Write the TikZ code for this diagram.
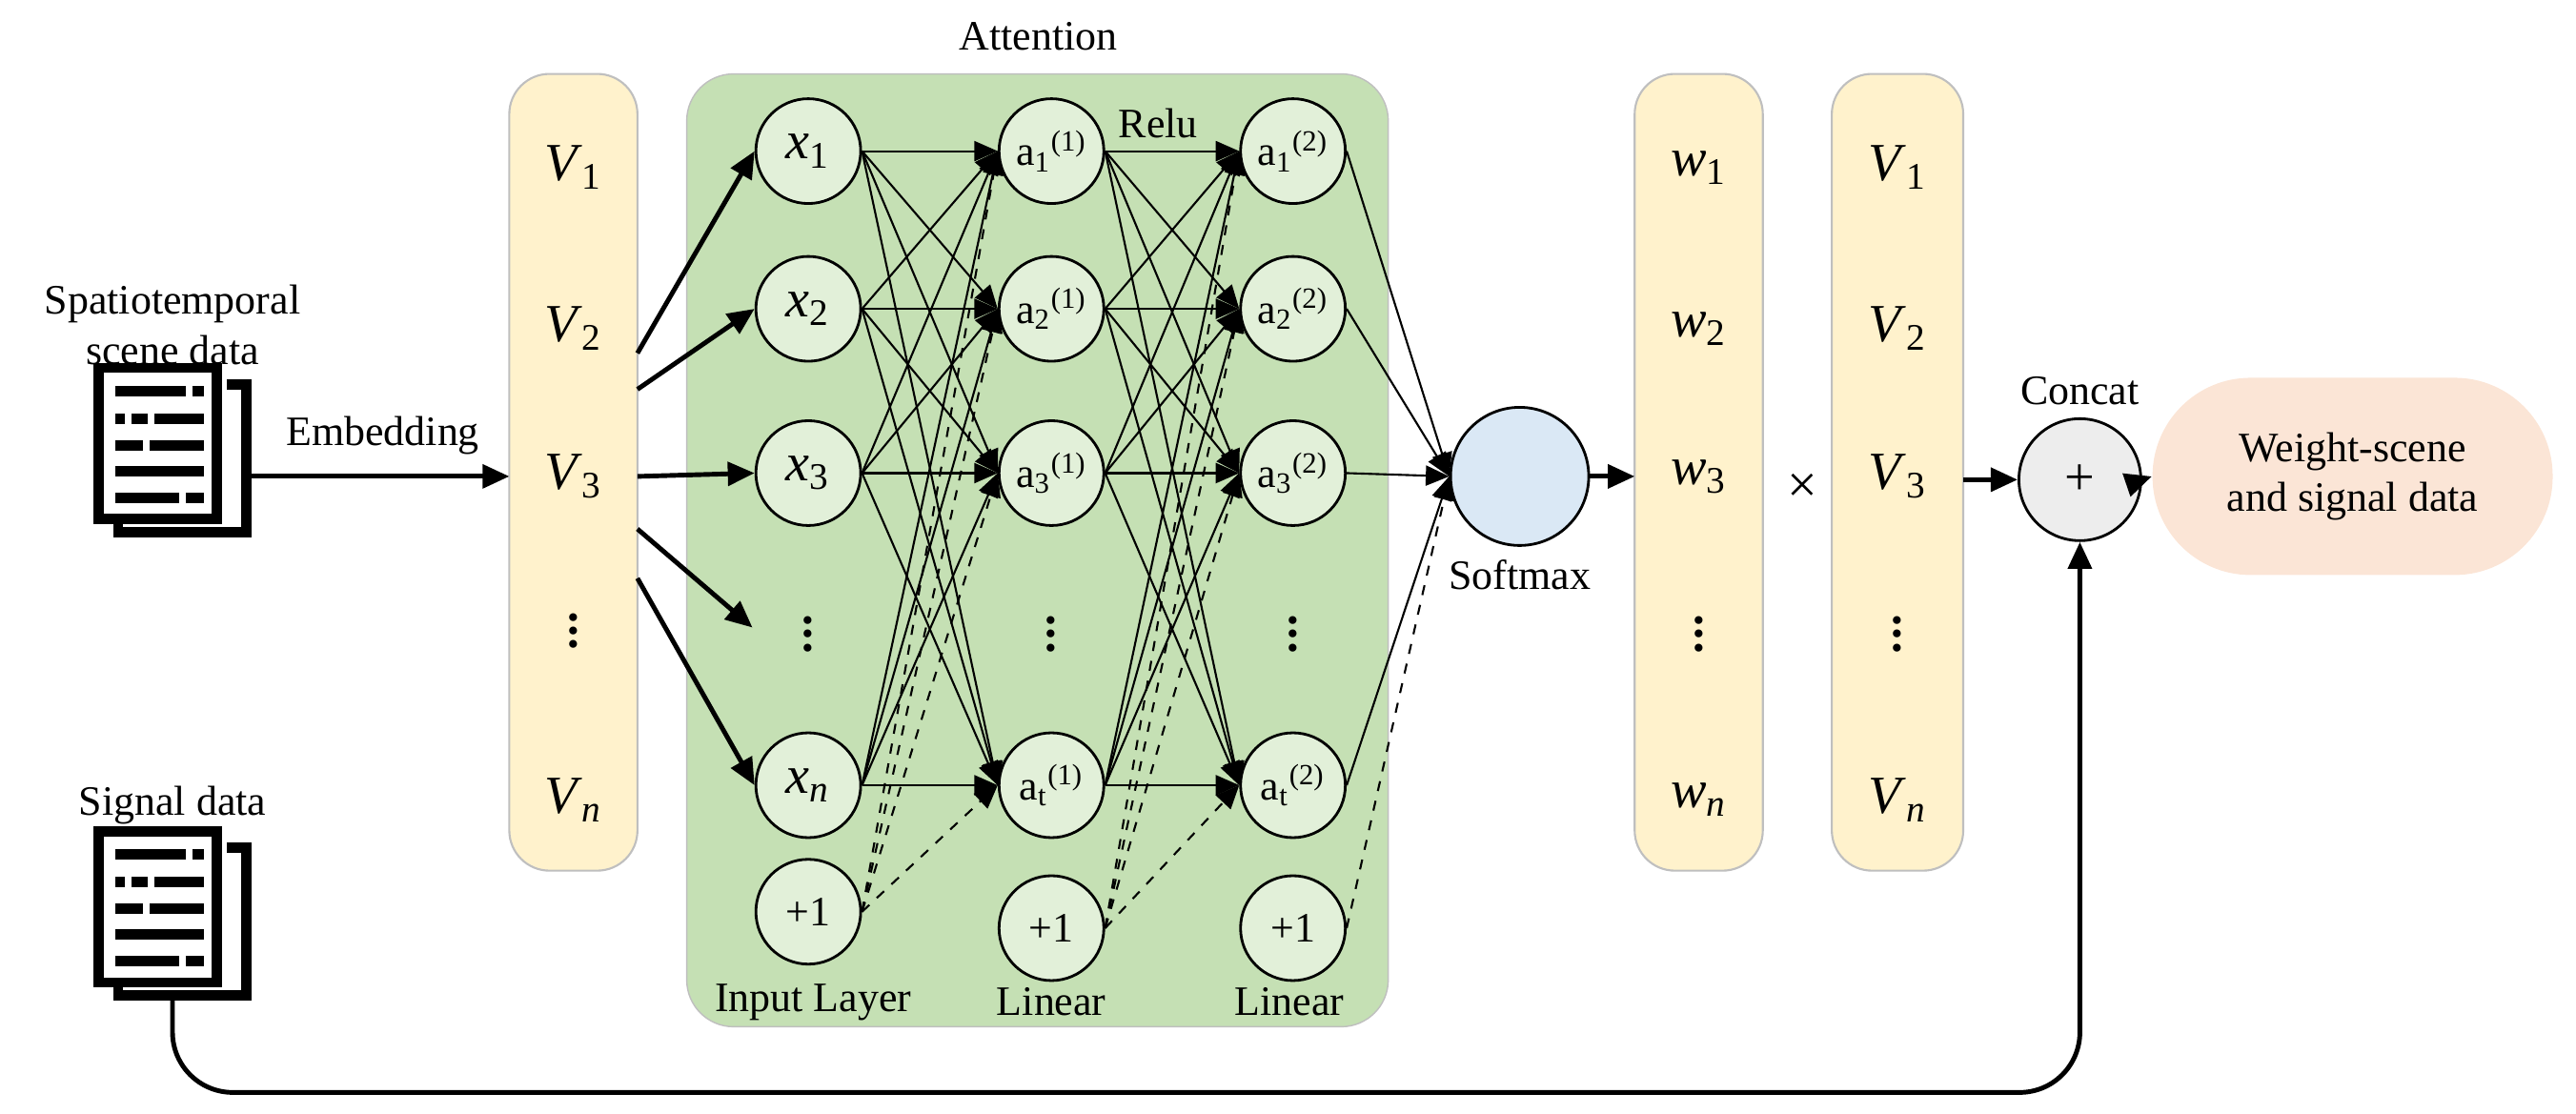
\documentclass[tikz,border=0pt]{standalone}
\usepackage{fontspec}
\setmainfont{Liberation Serif}
\usetikzlibrary{arrows.meta,calc,shapes.geometric}
\definecolor{ycol}{HTML}{FFF2CC}
\definecolor{gbox}{HTML}{C5E0B4}
\definecolor{gcirc}{HTML}{E2F0D9}
\definecolor{bcirc}{HTML}{DAE8F5}
\definecolor{ccirc}{HTML}{EDEDED}
\definecolor{pcol}{HTML}{FBE5D6}
\newcommand\iv[2]{\textit{#1}\textsubscript{#2}}
\newcommand\an[2]{a\textsubscript{#1}\textsuperscript{(#2)}}
\newcommand\vd{\textbf{\Large$\vdots$}}
\begin{document}
\begin{tikzpicture}[x=0.01724cm,y=-0.01724cm,
  every node/.style={font=\fontsize{12.5}{15}\selectfont},
  col/.style={draw=black!25,fill=ycol,rounded corners=12pt,line width=0.6pt},
  neu/.style={circle,draw,fill=gcirc,line width=0.8pt,minimum size=1.1cm,inner sep=0pt},
  arr/.style={-{Triangle[length=7pt,width=6pt]},line width=0.6pt},
  barr/.style={-{Triangle[length=8pt,width=7pt]},line width=1.4pt},
  darr/.style={arr,dashed},
  big/.style={font=\fontsize{16}{18}\selectfont},
  lines/.style={line width=3.2pt}]
\useasboundingbox (0,0) rectangle (1568,678);
% document icons
\foreach \yy in {224,506}{
  \draw[line width=3pt] (60,\yy) rectangle (132,\yy+92);
  \draw[line width=3pt] (138,\yy+10) -- (150,\yy+10) -- (150,\yy+100) -- (72,\yy+100) -- (72,\yy+95);
  \draw[lines] (70,\yy+14) -- (113,\yy+14) (117,\yy+14) -- (124,\yy+14);
  \draw[lines] (70,\yy+31) -- (76,\yy+31) (80,\yy+31) -- (90,\yy+31) (94,\yy+31) -- (124,\yy+31);
  \draw[lines] (70,\yy+47) -- (87,\yy+47) (91,\yy+47) -- (124,\yy+47);
  \draw[lines] (70,\yy+63) -- (124,\yy+63);
  \draw[lines] (70,\yy+79) -- (109,\yy+79) (113,\yy+79) -- (124,\yy+79);
}
\coordinate (d1r) at (150,290);
\coordinate (d2b) at (105,606);
\node[align=center] (lst) at (105,198) {Spatiotemporal\\scene data};
\node (lsig) at (105,490) {Signal data};
\node (lemb) at (233,265) {Embedding};
% columns
\draw[col] (310,45) rectangle (388,530);
\node[big] (v1) at (349,102) {\iv{V}{1}};
\node[big] (v2) at (349,200) {\iv{V}{2}};
\node[big] (v3) at (349,290) {\iv{V}{3}};
\node[big] (vd) at (349,378) {\vd};
\node[big] (vn) at (349,487) {\iv{V}{\textit{n}}};
\draw[draw=black!25,fill=gbox,rounded corners=14pt] (418,45) rectangle (845,625);
\node (latt) at (632,22) {Attention};
% layer nodes
\node[neu,big] (x1) at (492,92) {\iv{x}{1}};
\node[neu,big] (x2) at (492,188) {\iv{x}{2}};
\node[neu,big] (x3) at (492,288) {\iv{x}{3}};
\node[big] (xd) at (492,380) {\vd};
\node[neu,big] (xn) at (492,478) {\iv{x}{\textit{n}}};
\node[neu] (p1) at (492,555) {+1};
\foreach \l/\xx/\s in {a/640/1,b/787/2}{
  \node[neu] (\l1) at (\xx,92) {\an{1}{\s}};
  \node[neu] (\l2) at (\xx,188) {\an{2}{\s}};
  \node[neu] (\l3) at (\xx,288) {\an{3}{\s}};
  \node[big] (\l d) at (\xx,380) {\vd};
  \node[neu] (\l n) at (\xx,478) {\an{t}{\s}};
  \node[neu] (\l p) at (\xx,565) {+1};
}
\node (lin) at (495,610) {Input Layer};
\node (llin1) at (640,610) {Linear};
\node (llin2) at (785,610) {Linear};
\node (lrelu) at (705,75) {Relu};
% connections
\foreach \s in {x1,x2,x3,xn}{\foreach \t in {a1,a2,a3,an}{\draw[arr] (\s.east) -- (\t.west);}}
\foreach \t in {a1,a2,a3,an}{\draw[darr] (p1.east) -- (\t.west);}
\foreach \s in {a1,a2,a3,an}{\foreach \t in {b1,b2,b3,bn}{\draw[arr] (\s.east) -- (\t.west);}}
\foreach \t in {b1,b2,b3,bn}{\draw[darr] (ap.east) -- (\t.west);}
% softmax
\node[circle,draw,fill=bcirc,line width=0.8pt,minimum size=1.45cm] (sm) at (925,290) {};
\node (lsm) at (925,350) {Softmax};
\foreach \s in {b1,b2,b3,bn}{\draw[arr] (\s.east) -- (sm.west);}
\draw[darr] (bp.east) -- (sm.west);
% input arrows
\draw[barr] (388,215) -- (x1.west);
\draw[barr] (388,237) -- (x2.west);
\draw[barr] (388,290) -- (x3.west);
\draw[barr] (388,322) -- (458,382);
\draw[barr] (388,352) -- (xn.west);
\draw[barr] (d1r) -- (310,290);
% w column
\draw[col] (995,45) rectangle (1073,530);
\node[big] (w1) at (1034,102) {\iv{w}{1}};
\node[big] (w2) at (1034,200) {\iv{w}{2}};
\node[big] (w3) at (1034,290) {\iv{w}{3}};
\node[big] (wd) at (1034,380) {\vd};
\node[big] (wn) at (1034,487) {\iv{w}{\textit{n}}};
\draw[barr] (sm.east) -- (995,290);
\node[big] (times) at (1097,297) {×};
\draw[col] (1115,45) rectangle (1195,530);
\node[big] (u1) at (1155,102) {\iv{V}{1}};
\node[big] (u2) at (1155,200) {\iv{V}{2}};
\node[big] (u3) at (1155,290) {\iv{V}{3}};
\node[big] (ud) at (1155,380) {\vd};
\node[big] (un) at (1155,487) {\iv{V}{\textit{n}}};
\node[circle,draw,fill=ccirc,line width=0.8pt,minimum size=1.28cm,big] (cc) at (1266,292) {+};
\node (lcc) at (1266,238) {Concat};
\draw[barr] (1195,292) -- (cc.west);
\node[rectangle,rounded corners=1.03cm,fill=pcol,minimum width=4.2cm,minimum height=2.07cm,align=center] (out) at (1432,290) {Weight-scene\\and signal data};
\draw[barr] (cc.east) -- (out.west);
\draw[barr,rounded corners=18pt] (d2b) -- (105,665) -- (1266,665) -- (cc.south);
\end{tikzpicture}
\end{document}
